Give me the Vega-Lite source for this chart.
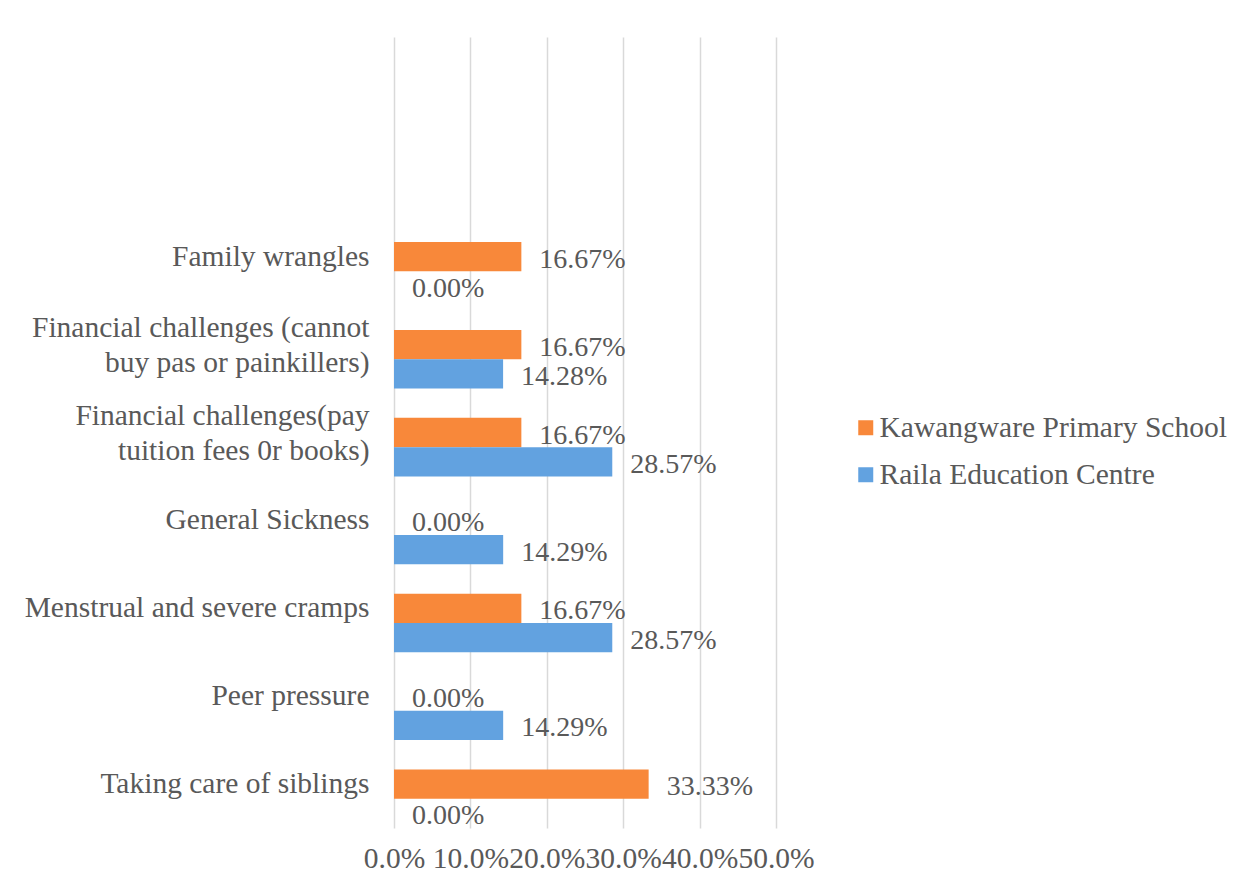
{
  "$schema": "https://vega.github.io/schema/vega-lite/v6.json",
  "width": 382,
  "height": 791,
  "autosize": {"type": "none"},
  "padding": {"left": 394, "top": 37, "right": 467, "bottom": 62},
  "background": "white",
  "config": {"view": {"stroke": null}, "font": "Liberation Serif"},
  "data": {
    "values": [
      {"reason": "Family wrangles", "school": "Kawangware Primary School", "pct": 0.1667},
      {"reason": "Family wrangles", "school": "Raila Education Centre", "pct": 0},
      {"reason": "Financial challenges (cannot buy pas or painkillers)", "school": "Kawangware Primary School", "pct": 0.1667},
      {"reason": "Financial challenges (cannot buy pas or painkillers)", "school": "Raila Education Centre", "pct": 0.1428},
      {"reason": "Financial challenges(pay tuition fees 0r books)", "school": "Kawangware Primary School", "pct": 0.1667},
      {"reason": "Financial challenges(pay tuition fees 0r books)", "school": "Raila Education Centre", "pct": 0.2857},
      {"reason": "General Sickness", "school": "Kawangware Primary School", "pct": 0},
      {"reason": "General Sickness", "school": "Raila Education Centre", "pct": 0.1429},
      {"reason": "Menstrual and severe cramps", "school": "Kawangware Primary School", "pct": 0.1667},
      {"reason": "Menstrual and severe cramps", "school": "Raila Education Centre", "pct": 0.2857},
      {"reason": "Peer pressure", "school": "Kawangware Primary School", "pct": 0},
      {"reason": "Peer pressure", "school": "Raila Education Centre", "pct": 0.1429},
      {"reason": "Taking care of siblings", "school": "Kawangware Primary School", "pct": 0.3333},
      {"reason": "Taking care of siblings", "school": "Raila Education Centre", "pct": 0}
    ]
  },
  "encoding": {
    "y": {
      "field": "reason",
      "type": "nominal",
      "sort": ["Family wrangles", "Financial challenges (cannot buy pas or painkillers)", "Financial challenges(pay tuition fees 0r books)", "General Sickness", "Menstrual and severe cramps", "Peer pressure", "Taking care of siblings"],
      "scale": {"paddingInner": 0, "paddingOuter": 1, "align": 1},
      "axis": {
        "title": null,
        "domain": false,
        "ticks": false,
        "grid": false,
        "labelPadding": 25,
        "labelFontSize": 29.5,
        "labelColor": "#595959",
        "labelLimit": 0,
        "labelOverlap": false,
        "labelLineHeight": 35,
        "labelOffset": {"condition": {"test": "indexof(datum.value, 'Financial') === 0", "value": -17}, "value": 0},
        "labelExpr": "datum.value == 'Financial challenges (cannot buy pas or painkillers)' ? ['Financial challenges (cannot', 'buy pas or painkillers)'] : datum.value == 'Financial challenges(pay tuition fees 0r books)' ? ['Financial challenges(pay', 'tuition fees 0r books)'] : datum.value"
      }
    },
    "yOffset": {
      "field": "school",
      "type": "nominal",
      "sort": ["Kawangware Primary School", "Raila Education Centre"],
      "scale": {"paddingInner": 0, "paddingOuter": 0.5, "align": 1}
    },
    "x": {
      "field": "pct",
      "type": "quantitative",
      "scale": {"domain": [0, 0.5]},
      "axis": {
        "title": null,
        "domain": false,
        "ticks": false,
        "values": [0, 0.1, 0.2, 0.3, 0.4, 0.5],
        "format": ".1%",
        "labelFontSize": 29.5,
        "labelColor": "#595959",
        "labelPadding": 16,
        "labelOverlap": false,
        "labelFlush": false,
        "gridColor": "#D9D9D9",
        "gridWidth": 1.5
      }
    }
  },
  "layer": [
    {
      "mark": {"type": "bar"},
      "encoding": {
        "color": {
          "field": "school",
          "type": "nominal",
          "scale": {"domain": ["Kawangware Primary School", "Raila Education Centre"], "range": ["#F8883A", "#62A2E0"]},
          "legend": {
            "title": null,
            "orient": "none",
            "legendX": 457,
            "legendY": 376,
            "labelFontSize": 29.5,
            "labelColor": "#595959",
            "labelLimit": 0,
            "symbolType": "square",
            "symbolSize": 225,
            "symbolStrokeWidth": 0,
            "rowPadding": 16,
            "labelOffset": -1
          }
        }
      }
    },
    {
      "mark": {"type": "text", "align": "left", "baseline": "middle", "dx": 18, "dy": 3, "fontSize": 28, "color": "#595959"},
      "encoding": {"text": {"field": "pct", "type": "quantitative", "format": ".2%"}}
    }
  ]
}
